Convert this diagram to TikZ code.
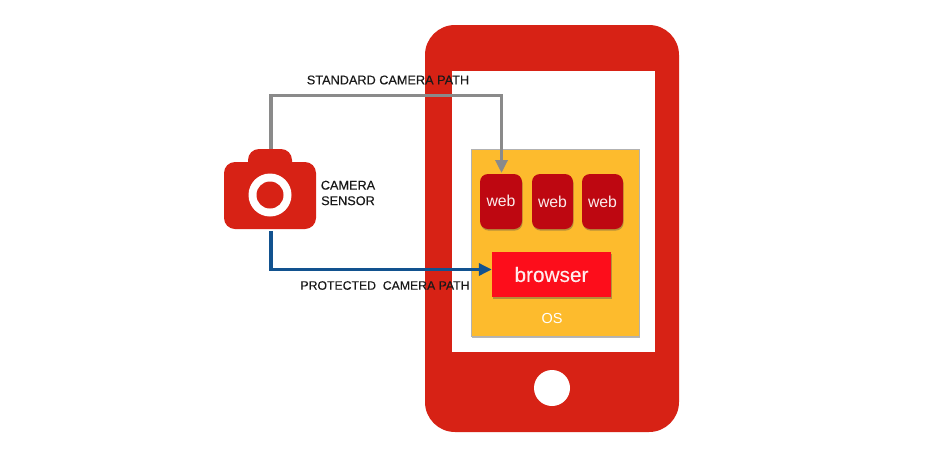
\documentclass[tikz,border=0pt]{standalone}
\usepackage{fontspec}
\setmainfont{Liberation Sans}
\newfontfamily\labelfont[FakeBold=0.25]{Liberation Sans}
\newfontfamily\boxfont[FakeBold=0.15]{Liberation Sans}
\usetikzlibrary{arrows.meta,shadows,calc}
\definecolor{phonered}{HTML}{D72215}
\definecolor{osyellow}{HTML}{FDBB2D}
\definecolor{webred}{HTML}{BE0711}
\definecolor{brred}{HTML}{FD0D1B}
\definecolor{pathgray}{HTML}{8A8A8A}
\definecolor{pathblue}{HTML}{12528F}
\tikzset{
  softshadow/.style={drop shadow={shadow xshift=0.6pt,shadow yshift=-1.6pt,opacity=.4,fill=black!70}},
  webbox/.style={fill=webred,rounded corners=8pt,minimum height=55pt,inner sep=0pt,softshadow},
  webtext/.style={text=white!92!webred,inner sep=0pt,font=\fontsize{15.8}{18}\selectfont},
  pathlabel/.style={text=black!90,inner sep=0pt,font=\labelfont\fontsize{12.7}{15.5}\selectfont},
  pathline/.style={line width=3.2pt},
}
\begin{document}
\begin{tikzpicture}[x=1pt,y=-1pt]
\useasboundingbox (0,0) rectangle (935,456);
\fill[white] (0,0) rectangle (935,456);
% phone
\fill[phonered,rounded corners=30pt] (425,25) rectangle (679,432);
\fill[white] (452,71) rectangle (655,352);
\node[circle,fill=white,minimum size=36pt,inner sep=0pt] (home) at (552,388) {};
% OS
\node[fill=osyellow,draw=black!30,line width=.5pt,minimum width=168pt,minimum height=187pt,inner sep=0pt,softshadow] (os) at (555.5,243) {};
\node[text=white,inner sep=0pt,font=\fontsize{14.5}{16}\selectfont] (oslabel) at (552,318.5) {OS};
% web
\node[webbox,minimum width=42pt] (web1) at (501,201.5) {};
\node[webbox,minimum width=41pt] (web2) at (552.5,201.5) {};
\node[webbox,minimum width=41pt] (web3) at (602.5,201.5) {};
\node[webtext] (w1) at (501,200.5) {web};
\node[webtext] (w2) at (552.5,202) {web};
\node[webtext] (w3) at (602.5,202) {web};
% browser
\node[fill=brred,minimum width=119pt,minimum height=45pt,inner sep=0pt,text=white!92!brred,font=\boxfont\fontsize{20.8}{24}\selectfont,softshadow] (browser) at (551.5,274.5) {browser};
% camera
\fill[phonered,rounded corners=11pt] (224,162) rectangle (316,229);
\fill[phonered,rounded corners=11pt] (248,149) rectangle (292,180);
\node[circle,fill=white,minimum size=43pt,inner sep=0pt] (lensout) at (270,195) {};
\node[circle,fill=phonered,minimum size=27pt,inner sep=0pt] (lens) at (270,195) {};
\coordinate (camtop) at (271,149);
\coordinate (cambot) at (271,231);
\coordinate (webtop) at (501.5,173);
\node[pathlabel,align=center] (camlabel) at (348,193) {CAMERA\\SENSOR};
% paths
\draw[pathline,pathgray,-{Triangle[length=13pt,width=12pt]}] (camtop) -- (271,95.5) -- (501.5,95.5) -- (webtop);
\draw[pathline,pathblue,-{Triangle[length=13pt,width=12pt]}] (cambot) -- (271,269.5) -- (browser.west |- 0,269.5);
\node[pathlabel] (stdlabel) at (388,80) {STANDARD CAMERA PATH};
\node[pathlabel,font=\labelfont\fontsize{12.25}{15}\selectfont] (protlabel) at (385,285.5) {PROTECTED\ \ CAMERA PATH};
\end{tikzpicture}
\end{document}
